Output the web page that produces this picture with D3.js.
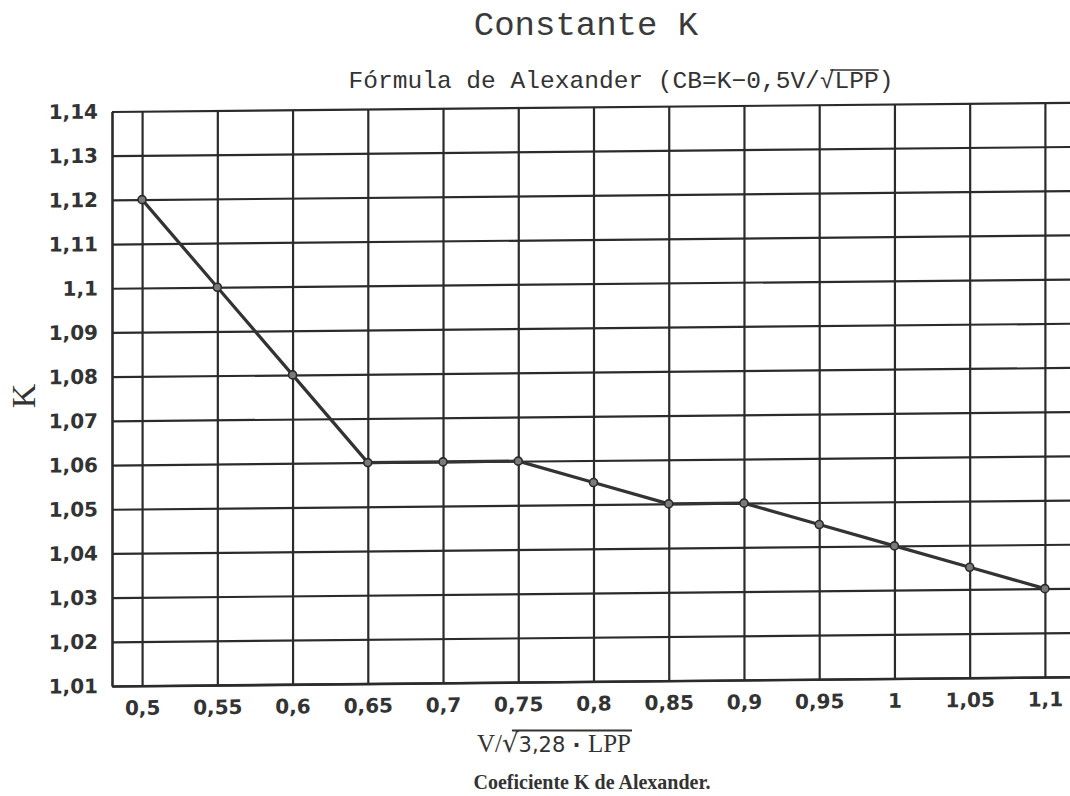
<!DOCTYPE html>
<html>
<head>
<meta charset="utf-8">
<script src="https://cdn.jsdelivr.net/npm/d3@7"></script>
<style>
  html, body { margin: 0; padding: 0; background: #fff; }
  svg { display: block; }
</style>
</head>
<body>
<svg id="chart" width="1070" height="796"></svg>
<script>
// Alexander's K constant versus V/sqrt(3.28·LPP)
const speedRatio = [0.5, 0.55, 0.6, 0.65, 0.7, 0.75, 0.8, 0.85, 0.9, 0.95, 1.0, 1.05, 1.1];
const kValues    = [1.12, 1.10, 1.08, 1.06, 1.06, 1.06, 1.055, 1.05, 1.05, 1.045, 1.04, 1.035, 1.03];

const xTickValues = [0.5, 0.55, 0.6, 0.65, 0.7, 0.75, 0.8, 0.85, 0.9, 0.95, 1, 1.05, 1.1];
const yTickValues = [1.01, 1.02, 1.03, 1.04, 1.05, 1.06, 1.07, 1.08, 1.09, 1.1, 1.11, 1.12, 1.13, 1.14];

const titleText    = "Constante K";
const subtitleText = "Fórmula de Alexander (CB=K−0,5V/√LPP)";
const yTitleText   = "K";
const captionText  = "Coeficiente K de Alexander.";

const ink = "#2b2b2b";
const svg = d3.select("#chart");

const plotLeft = 112, plotRight = 1075, plotTop = 111.5, plotBottom = 686;
const x = d3.scaleLinear().domain([0.48, 1.12]).range([plotLeft, plotRight]);
const y = d3.scaleLinear().domain([1.01, 1.14]).range([plotBottom, plotTop]);

const commaFmt = v => String(v).replace(".", ",");

// the sheet is printed with a slight upward slant to the right
const slant = -0.0096;
const plot = svg.append("g")
  .attr("transform", `matrix(1,${slant},0,1,0,${-slant * plotLeft})`);

// horizontal grid + left border
const yAxis = plot.append("g")
  .attr("transform", `translate(${plotLeft},0)`)
  .call(d3.axisLeft(y).tickValues(yTickValues).tickFormat(commaFmt)
    .tickSizeInner(-(plotRight - plotLeft)).tickSizeOuter(0).tickPadding(14));

// vertical grid + bottom border
const xAxis = plot.append("g")
  .attr("transform", `translate(0,${plotBottom})`)
  .call(d3.axisBottom(x).tickValues(xTickValues).tickFormat(commaFmt)
    .tickSizeInner(-(plotBottom - plotTop)).tickSizeOuter(0).tickPadding(15));

[yAxis, xAxis].forEach(a => {
  a.selectAll("path.domain").attr("stroke", ink).attr("stroke-width", 2.6);
  a.selectAll(".tick line").attr("stroke", ink).attr("stroke-width", 2.2);
  a.selectAll(".tick text")
    .attr("fill", "#333")
    .style("font-family", "'DejaVu Sans', sans-serif")
    .style("font-weight", "bold")
    .style("font-size", "20px");
});

// data line
const line = d3.line().x((d, i) => x(speedRatio[i])).y(d => y(d));
plot.append("path")
  .datum(kValues)
  .attr("d", line)
  .attr("fill", "none")
  .attr("stroke", "#333")
  .attr("stroke-width", 3.2)
  .attr("stroke-linejoin", "round");

plot.append("g").selectAll("circle")
  .data(kValues)
  .join("circle")
  .attr("cx", (d, i) => x(speedRatio[i]))
  .attr("cy", d => y(d))
  .attr("r", 4)
  .attr("fill", "#7a7a7a")
  .attr("stroke", "#2b2b2b")
  .attr("stroke-width", 1.6);

// title
svg.append("text")
  .attr("x", 586).attr("y", 35)
  .attr("text-anchor", "middle")
  .attr("fill", "#3a3a3a")
  .style("font-family", "'Liberation Mono', monospace")
  .style("font-size", "34px")
  .text(titleText);

// subtitle with overline over the radicand
const sub = svg.append("text")
  .attr("x", 621).attr("y", 88)
  .attr("text-anchor", "middle")
  .attr("fill", "#333")
  .style("font-family", "'Liberation Mono', monospace")
  .style("font-size", "24px")
  .attr("textLength", 545)
  .attr("lengthAdjust", "spacingAndGlyphs")
  .text(subtitleText);
{
  const node = sub.node();
  const iStart = subtitleText.indexOf("LPP");
  const a = node.getExtentOfChar(iStart);
  const b = node.getExtentOfChar(iStart + 2);
  const r = node.getExtentOfChar(iStart - 1);
  svg.append("line")
    .attr("x1", r.x + r.width * 0.7).attr("x2", b.x + b.width)
    .attr("y1", a.y + 2).attr("y2", a.y + 2)
    .attr("stroke", "#333").attr("stroke-width", 1.6);
}

// y-axis title
svg.append("text")
  .attr("transform", "translate(35,396) rotate(-90)")
  .attr("text-anchor", "middle")
  .attr("fill", "#333")
  .style("font-family", "'Liberation Serif', serif")
  .style("font-size", "34px")
  .text(yTitleText);

// x-axis title: V/√(3,28·LPP)
const xt = svg.append("text")
  .attr("x", 554).attr("y", 752)
  .attr("text-anchor", "middle")
  .attr("fill", "#333")
  .style("font-size", "25px");
xt.append("tspan").style("font-family", "'Liberation Serif', serif").text("V/");
xt.append("tspan").style("font-family", "'DejaVu Sans', sans-serif").style("font-size", "26px").text("√");
xt.append("tspan").style("font-family", "'DejaVu Sans', sans-serif").style("font-size", "21px").text("3,28");
xt.append("tspan").style("font-family", "'DejaVu Sans', sans-serif").style("font-weight", "bold").style("font-size", "21px").text(" · ");
xt.append("tspan").style("font-family", "'Liberation Serif', serif").text("LPP");
{
  const node = xt.node();
  const n = node.getNumberOfChars();
  const r = node.getExtentOfChar(2);
  const last = node.getExtentOfChar(n - 1);
  svg.append("line")
    .attr("x1", r.x + r.width * 0.6).attr("x2", last.x + last.width + 1)
    .attr("y1", r.y + 2.5).attr("y2", r.y + 2.5)
    .attr("stroke", "#333").attr("stroke-width", 1.8);
}

// caption
svg.append("text")
  .attr("x", 592).attr("y", 789)
  .attr("text-anchor", "middle")
  .attr("fill", "#333")
  .style("font-family", "'Liberation Serif', serif")
  .style("font-weight", "bold")
  .style("font-size", "20px")
  .text(captionText);
</script>
</body>
</html>
